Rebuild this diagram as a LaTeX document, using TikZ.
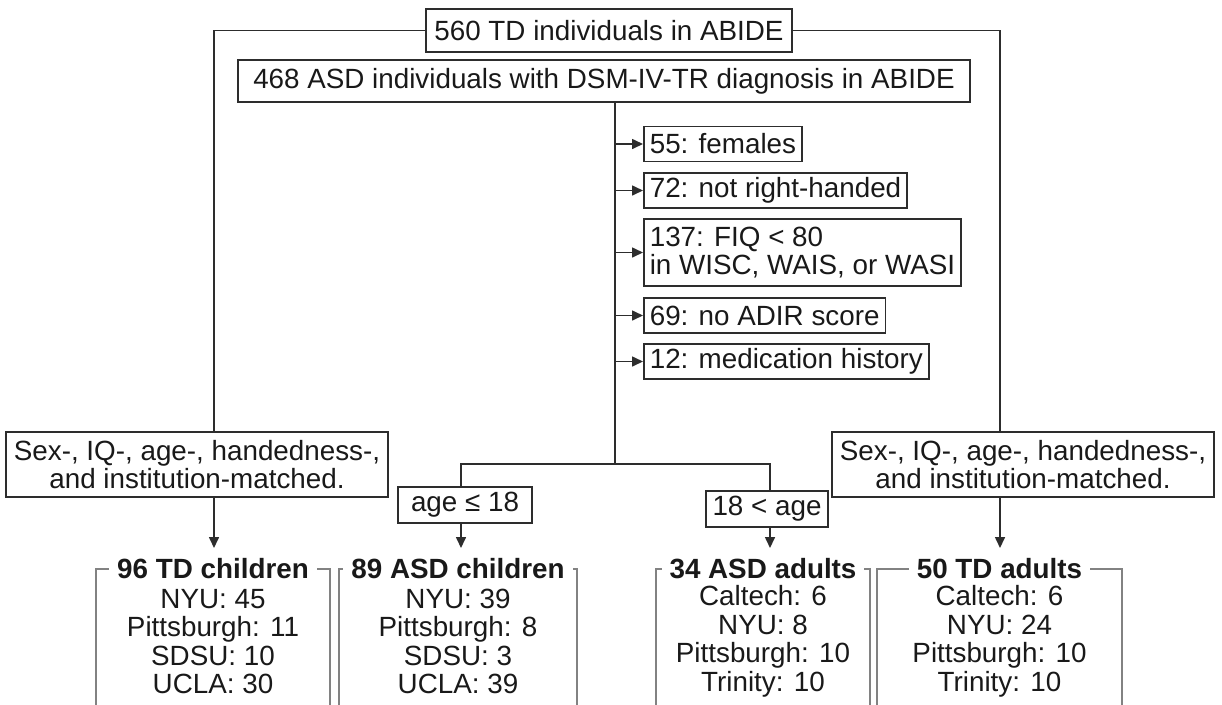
\documentclass[tikz,border=0pt]{standalone}
\usepackage{fontspec}
\setmainfont{Liberation Sans}
\usetikzlibrary{arrows.meta, positioning}
\definecolor{boxline}{RGB}{45,45,45}
\definecolor{framegray}{RGB}{130,130,130}
\definecolor{inkgray}{RGB}{25,25,25}

\begin{document}
\begin{tikzpicture}[x=1pt, y=-1pt,
  every node/.style={font=\fontsize{27.8}{28.5}\selectfont, text=inkgray},
  box/.style={draw=boxline, line width=1.6pt, inner xsep=8pt, inner ysep=4pt, align=center},
  exbox/.style={box, anchor=west, align=left, inner xsep=6pt, minimum height=35pt},
  group/.style={minimum width=#1, minimum height=145pt, align=center, inner sep=0pt},
  title/.style={fill=white, font=\fontsize{27.8}{28.5}\selectfont\bfseries, inner xsep=8pt, inner ysep=2pt},
  line/.style={draw=boxline, line width=1.6pt},
  arr/.style={line, -{Triangle[length=11pt, width=10pt]}},
  frame/.style={draw=framegray, line width=1.6pt},
]
  \useasboundingbox (0,0) rectangle (1222,704);
  \clip (0,0) rectangle (1222,704);

  % Sources
  \node[box, minimum width=366pt, minimum height=43pt] (td) at (609,30.5) {560 TD individuals in ABIDE};
  \node[box, minimum width=732pt, minimum height=42pt] (asd) at (604,81) {468 ASD individuals with DSM-IV-TR diagnosis in ABIDE};

  % Exclusions
  \node[exbox] (fem) at (643,144) {55: females};
  \node[exbox] (hand) at (643,190.5) {72: not right-handed};
  \node[exbox, minimum height=67pt] (fiq) at (643,252.5) {137: FIQ < 80\\in WISC, WAIS, or WASI};
  \node[exbox] (adir) at (643,315.5) {69: no ADIR score};
  \node[exbox] (med) at (643,361.5) {12: medication history};

  % Matching and age split
  \node[box, minimum width=376pt, minimum height=65pt] (matchl) at (197,464.5) {Sex-, IQ-, age-, handedness-,\\and institution-matched.};
  \node[box, minimum width=376pt, minimum height=65pt] (matchr) at (1023,464.5) {Sex-, IQ-, age-, handedness-,\\and institution-matched.};
  \node[box, minimum width=134pt, minimum height=36pt, inner xsep=4pt] (young) at (465,505) {age ≤ 18};
  \node[box, minimum width=122pt, minimum height=36pt, inner xsep=4pt] (old) at (767,509) {18 < age};

  % Groups
  \node[group=234pt] (tdch) at (213,641.5) {NYU: 45\\Pittsburgh: 11\\SDSU: 10\\UCLA: 30};
  \node[group=238pt] (asdch) at (458,641.5) {NYU: 39\\Pittsburgh: 8\\SDSU: 3\\UCLA: 39};
  \node[group=214pt] (asdad) at (763,641.5) {Caltech: 6\\NYU: 8\\Pittsburgh: 10\\Trinity: 10};
  \node[group=245pt] (tdad) at (999.5,641.5) {Caltech: 6\\NYU: 24\\Pittsburgh: 10\\Trinity: 10};
  \foreach \g in {tdch, asdch, asdad, tdad}
    \draw[frame] (\g.south west) |- (\g.north east) -- (\g.south east);
  \node[title] (tdcht) at (tdch.north) {96 TD children};
  \node[title] (asdcht) at (asdch.north) {89 ASD children};
  \node[title] (asdadt) at (asdad.north) {34 ASD adults};
  \node[title] (tdadt) at (tdad.north) {50 TD adults};

  % Arrow ends
  \coordinate (tl) at (214,548);
  \coordinate (ya) at (461,548);
  \coordinate (oa) at (770,548);
  \coordinate (tr) at (1000,548);
  \coordinate (split) at (615,464);

  % TD branches
  \draw[line] (td.west) -| (matchl.north -| tl);
  \draw[arr] (matchl.south -| tl) -- (tl);
  \draw[line] (td.east) -| (matchr.north -| tr);
  \draw[arr] (matchr.south -| tr) -- (tr);

  % ASD trunk
  \draw[line] (asd.south -| split) -- (split);
  \foreach \ex in {fem, hand, fiq, adir, med}
    \draw[arr] (\ex.west -| split) -- (\ex.west);
  \draw[line] (young.north -| ya) |- (split) -| (old.north -| oa);
  \draw[arr] (young.south -| ya) -- (ya);
  \draw[arr] (old.south -| oa) -- (oa);
\end{tikzpicture}
\end{document}
